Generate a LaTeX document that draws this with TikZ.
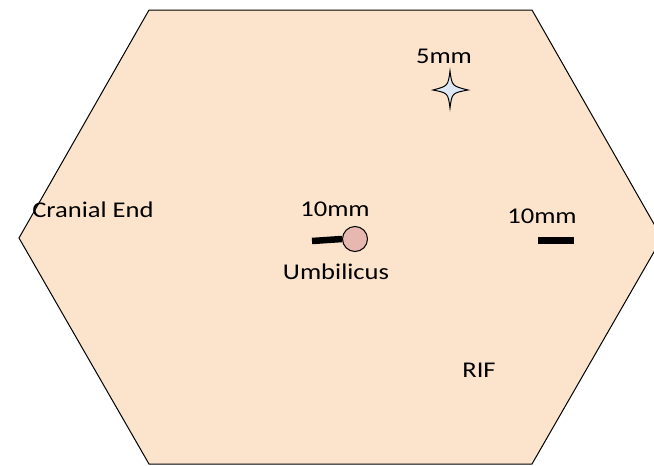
\documentclass[tikz,border=0pt]{standalone}
\usepackage{fontspec}
\setmainfont[FakeStretch=1.18]{Carlito}
\definecolor{peach}{HTML}{FCE4CC}
\definecolor{pinkc}{HTML}{E6B8AF}
\definecolor{lblue}{HTML}{DCE9F5}
\begin{document}
\begin{tikzpicture}[x=1pt,y=-1pt,
  lbl/.style={inner sep=0pt,anchor=base,font=\fontsize{22.5}{24}\selectfont},
  bar/.style={line width=6.5pt}]
\useasboundingbox (0,0) rectangle (654,466);
\clip (0,0) rectangle (654,466);
\draw[fill=peach,line width=1pt] (149,10) -- (532,10) -- (662,238) -- (532,464) -- (149,464) -- (19,238) -- cycle;
% star
\draw[fill=lblue,line width=1pt] (450,71) .. controls (452,86) .. (468,90)
  .. controls (452,93) .. (450,108) .. controls (448,93) .. (433,90)
  .. controls (448,86) .. cycle;
\node[lbl] (t5) at (444,63) {5mm};
% umbilicus port
\coordinate (barL) at (312,241);
\node[circle,draw,line width=1pt,fill=pinkc,minimum size=25pt,inner sep=0pt] (umb) at (355,239) {};
\draw[bar] (barL) -- (umb.west);
\node[lbl] (t10a) at (335,216) {10mm};
\node[lbl] (tumb) at (336,279) {Umbilicus};
% right port
\coordinate (rbL) at (538,240.5);
\coordinate (rbR) at (574,240.5);
\draw[line width=7pt] (rbL) -- (rbR);
\node[lbl] (t10b) at (542,223) {10mm};
\node[lbl] (cran) at (93,217) {Cranial End};
\node[lbl] (rif) at (479,377) {RIF};
\end{tikzpicture}
\end{document}
